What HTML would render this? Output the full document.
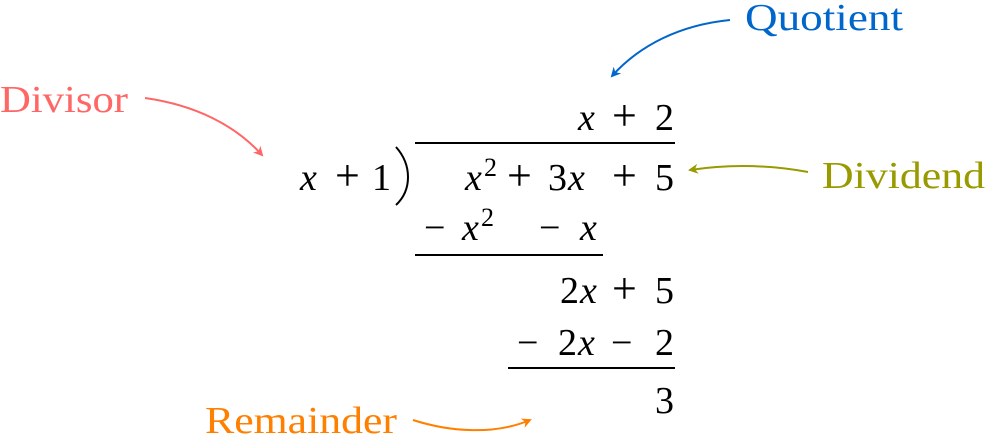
<!DOCTYPE html>
<html><head><meta charset="utf-8"><style>
html,body{margin:0;padding:0;background:#fff;}
svg{display:block}
text{font-family:"Liberation Serif",serif;font-size:38px;}
.i{font-style:italic}
.s{font-size:26px}
.p{font-size:44px}
</style></head><body>
<svg width="985" height="436" viewBox="0 0 985 436">
<defs>
<marker id="ab" markerWidth="10" markerHeight="10" refX="8" refY="5" orient="auto" markerUnits="userSpaceOnUse"><path d="M0,0 L10,5 L0,10 L3,5Z" fill="#0066cc"/></marker>
<marker id="ar" markerWidth="10" markerHeight="10" refX="8" refY="5" orient="auto" markerUnits="userSpaceOnUse"><path d="M0,0 L10,5 L0,10 L3,5Z" fill="#ff6666"/></marker>
<marker id="ao" markerWidth="10" markerHeight="10" refX="8" refY="5" orient="auto" markerUnits="userSpaceOnUse"><path d="M0,0 L10,5 L0,10 L3,5Z" fill="#999900"/></marker>
<marker id="aor" markerWidth="10" markerHeight="10" refX="8" refY="5" orient="auto" markerUnits="userSpaceOnUse"><path d="M0,0 L10,5 L0,10 L3,5Z" fill="#ff8000"/></marker>
</defs>
<text x="745" y="30" fill="#0066cc" textLength="158" lengthAdjust="spacingAndGlyphs">Quotient</text>
<path d="M730,20 C680,25 640,45 612,76" fill="none" stroke="#0066cc" stroke-width="2" marker-end="url(#ab)"/>
<text x="0" y="112" fill="#ff6666" textLength="128" lengthAdjust="spacingAndGlyphs">Divisor</text>
<path d="M145,98 C195,105 235,125 262,155" fill="none" stroke="#ff6666" stroke-width="2" marker-end="url(#ar)"/>
<text x="822" y="188" fill="#999900" textLength="163" lengthAdjust="spacingAndGlyphs">Dividend</text>
<path d="M808,172 C770,165 730,164 690,170" fill="none" stroke="#999900" stroke-width="2" marker-end="url(#ao)"/>
<text x="205" y="433" fill="#ff8000" textLength="192" lengthAdjust="spacingAndGlyphs">Remainder</text>
<path d="M413,420 C450,432 495,435 530,420" fill="none" stroke="#ff8000" stroke-width="2" marker-end="url(#aor)"/>

<text x="578" y="130" class="i">x</text><text x="612" y="130" class="p">+</text><text x="655" y="130">2</text>
<line x1="415" y1="143" x2="675" y2="143" stroke="#000" stroke-width="2"/>
<text x="300" y="190" class="i">x</text><text x="335" y="190" class="p">+</text><text x="372" y="190">1</text>
<path d="M396,147 C412,165 412,190 396,205" fill="none" stroke="#000" stroke-width="2"/>
<text x="465" y="190" class="i">x</text><text x="484" y="176" class="s">2</text>
<text x="507" y="190" class="p">+</text><text x="548" y="190">3</text><text x="568" y="190" class="i">x</text>
<text x="612" y="190" class="p">+</text><text x="655" y="190">5</text>
<text x="424" y="240">−</text><text x="462" y="240" class="i">x</text><text x="481" y="226" class="s">2</text>
<text x="539" y="240">−</text><text x="580" y="240" class="i">x</text>
<line x1="415" y1="255" x2="603" y2="255" stroke="#000" stroke-width="2"/>
<text x="560" y="303">2</text><text x="580" y="303" class="i">x</text><text x="612" y="303" class="p">+</text><text x="655" y="303">5</text>
<text x="517" y="355">−</text><text x="558" y="355">2</text><text x="578" y="355" class="i">x</text><text x="611" y="355">−</text><text x="655" y="355">2</text>
<line x1="508" y1="368" x2="675" y2="368" stroke="#000" stroke-width="2"/>
<text x="655" y="413">3</text>
</svg>
</body></html>
